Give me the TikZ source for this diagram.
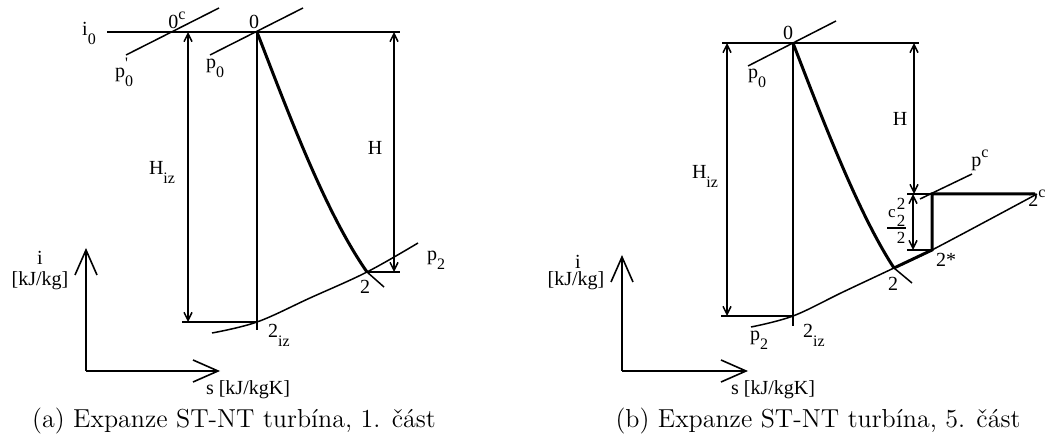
\documentclass[tikz,border=0pt]{standalone}
\usepackage{fontspec}
\newfontfamily\lblfont{Liberation Serif}
\usetikzlibrary{arrows.meta}

% lowered / raised indices in the label font
\newcommand{\lo}[1]{\raisebox{-4.5pt}{\fontsize{8}{9}\selectfont #1}}
\newcommand{\hi}[1]{\raisebox{4.5pt}{\fontsize{8}{9}\selectfont #1}}
\newcommand{\hilo}[2]{\makebox[0pt][l]{\hi{#1}}\lo{#2}}

\tikzset{
  lbl/.style={font=\lblfont\fontsize{10}{12}\selectfont, inner sep=0pt},
  small lbl/.style={font=\lblfont\fontsize{8.5}{9}\selectfont, inner sep=0pt},
  thinline/.style={line width=0.75pt},
  dimarrow/.style={line width=0.75pt, {Straight Barb[length=4pt,width=4pt]}-{Straight Barb[length=4pt,width=4pt]}},
  axisarrow/.style={line width=0.8pt, -{Straight Barb[length=12.5pt,width=11pt]}},
  expansion/.style={line width=1.5pt},
  subcaption/.style={font=\fontsize{13}{15}\selectfont, inner sep=0pt}
}

\begin{document}
\begin{tikzpicture}[x=0.5pt, y=-0.5pt]
  \useasboundingbox (0,0) rectangle (1050,443);

  % ---------- (a) 1. cast ----------
  \coordinate (a0) at (257,32);
  \coordinate (a2) at (367,272);
  \coordinate (a2iz) at (257,322);
  \coordinate (aorig) at (86,371);

  \draw[thinline] (107,32) coordinate (ai0) -- (400,32) coordinate (ai0e);
  \draw[thinline] (126,55) coordinate (ap0cs) -- (219,8) coordinate (ap0ce);
  \draw[thinline] (210,55) coordinate (ap0s) -- (303,8) coordinate (ap0e);
  \draw[thinline] (a0) -- (257,330) coordinate (avend);
  \draw[thinline] (182,322) coordinate (ahs) -- (a2iz);
  \draw[dimarrow] (188,32) coordinate (ahiz) -- (188,322) coordinate (ahizb);
  \draw[dimarrow] (394,32) coordinate (ah) -- (394,272) coordinate (ahb);
  \draw[thinline] (a2) -- (400,272) coordinate (a2e);
  \draw[thinline] plot[smooth, tension=0.6] coordinates {(212,333) (257,322) (310,298) (367,272) (418,243)};
  \draw[expansion] (a0) .. controls (288,112) and (325,212) .. (a2);
  \draw[thinline] (a2) -- (384,287) coordinate (a2t);

  \draw[axisarrow] (aorig) -- (86,248) coordinate (aiax);
  \draw[axisarrow] (aorig) -- (220,371) coordinate (asax);

  \node[lbl] (li0) at (89,33) {i\lo{0}};
  \node[lbl] (l0c) at (177,20) {0\hi{c}};
  \node[lbl] (lp0c) at (124,72) {p\hilo{'}{0}};
  \node[lbl] (la0) at (254,22) {0};
  \node[lbl] (lap0) at (215,68) {p\lo{0}};
  \node[lbl] (lahiz) at (162,172) {H\lo{iz}};
  \node[lbl] (lah) at (375,148) {H};
  \node[lbl] (lap2) at (436,260) {p\lo{2}};
  \node[lbl] (la2) at (365,287) {2};
  \node[lbl] (la2iz) at (279,335) {2\lo{iz}};
  \node[lbl] (lai) at (40,258) {i};
  \node[lbl] (laiu) at (40,281) {[kJ/kg]};
  \node[lbl] (las) at (248,390) {s [kJ/kgK]};
  \node[subcaption] (capa) at (234,421) {(a) Expanze ST-NT turbína, 1. část};

  % ---------- (b) 5. cast ----------
  \coordinate (b0) at (793,43);
  \coordinate (b2) at (894,268);
  \coordinate (b2s) at (932,250);
  \coordinate (b2c) at (1035,194);
  \coordinate (bpc) at (932,194);
  \coordinate (b2iz) at (793,316);
  \coordinate (borig) at (622,371);

  \draw[thinline] (722,43) coordinate (bi0) -- (919,43) coordinate (bi0e);
  \draw[thinline] (748,66) coordinate (bp0s) -- (836,21) coordinate (bp0e);
  \draw[thinline] (b0) -- (793,326) coordinate (bvend);
  \draw[thinline] (721,316) coordinate (bhs) -- (b2iz);
  \draw[dimarrow] (727,43) coordinate (bhiz) -- (727,316) coordinate (bhizb);
  \draw[dimarrow] (914,43) coordinate (bh) -- (914,194) coordinate (bhb);
  \draw[dimarrow] (913,194) coordinate (bc) -- (913,250) coordinate (bcb);
  \draw[thinline] (907,194) coordinate (btl) -- (bpc);
  \draw[thinline] (907,250) coordinate (bbl) -- (b2s);
  \draw[thinline] plot[smooth, tension=0.6] coordinates {(751,327) (793,316) (843,292) (894,268) (932,250) (1037,194)};
  \draw[thinline] (920,199) coordinate (bpcs) -- (972,174) coordinate (bpce);
  \draw[expansion] (b0) .. controls (822,118) and (858,213) .. (b2);
  \draw[thinline] (b2) -- (912,283) coordinate (b2t);
  \draw[expansion] (b2) -- (b2s) -- (bpc) -- (b2c);

  \draw[axisarrow] (borig) -- (622,255) coordinate (biax);
  \draw[axisarrow] (borig) -- (748,371) coordinate (bsax);

  \node[lbl] (lb0) at (788,33) {0};
  \node[lbl] (lbp0) at (757,78) {p\lo{0}};
  \node[lbl] (lbhiz) at (705,176) {H\lo{iz}};
  \node[lbl] (lbh) at (900,119) {H};
  \node[lbl] (lbpc) at (980,160) {p\hi{c}};
  \node[lbl, anchor=west] (lb2c) at (1028,198) {2\hi{c}};
  % c2^2 / 2
  \node[small lbl] (lbcn) at (892,214) {c};
  \node[small lbl] (lbcsup) at (901,204) {2};
  \node[small lbl] (lbcsub) at (901,221) {2};
  \coordinate (bfl) at (887,228);
  \coordinate (bfr) at (906,228);
  \draw[thinline] (bfl) -- (bfr);
  \node[small lbl] (lbcden) at (901,238) {2};
  \node[lbl] (lb2s) at (946,260) {2*};
  \node[lbl] (lb2) at (893,284) {2};
  \node[lbl] (lbp2) at (759,340) {p\lo{2}};
  \node[lbl] (lb2iz) at (814,335) {2\lo{iz}};
  \node[lbl] (lbi) at (578,262) {i};
  \node[lbl] (lbiu) at (576,281) {[kJ/kg]};
  \node[lbl] (lbs) at (773,390) {s [kJ/kgK]};
  \node[subcaption] (capb) at (818,421) {(b) Expanze ST-NT turbína, 5. část};
\end{tikzpicture}
\end{document}
